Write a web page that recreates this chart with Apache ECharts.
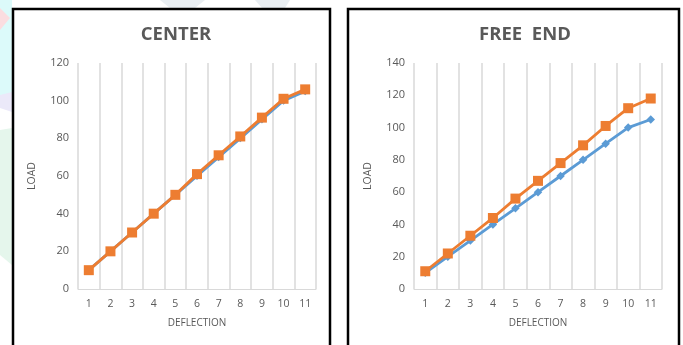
<!DOCTYPE html>
<html>
<head>
<meta charset="utf-8">
<style>
  html, body { margin: 0; padding: 0; background: #ffffff; }
  #chart { width: 683px; height: 345px; }
</style>
<script src="https://cdn.jsdelivr.net/npm/echarts@6/dist/echarts.min.js"></script>
</head>
<body>
<div id="chart"></div>
<script>
// Deflection steps shared by both panels
const deflection = ['1', '2', '3', '4', '5', '6', '7', '8', '9', '10', '11'];

// CENTER panel
const centerBlue = [10, 20, 30, 40, 50, 60, 70, 80, 90, 100, 105];
const centerOrange = [10, 20, 30, 40, 50, 61, 71, 81, 91, 101, 106];

// FREE END panel
const freeBlue = [10, 20, 30, 40, 50, 60, 70, 80, 90, 100, 105];
const freeOrange = [11, 22, 33, 44, 56, 67, 78, 89, 101, 112, 118];

const titles = ['CENTER', 'FREE  END'];
const yMax = [120, 140];

const BLUE = '#5B9BD5';
const ORANGE = '#ED7D31';
const TEXT = '#595959';
const GRID = '#d9d9d9';
const FONT = '"Open Sans", "Liberation Sans", sans-serif';

const chart = echarts.init(document.getElementById('chart'), null, { renderer: 'canvas' });

const grids = [
  { left: 78, top: 63, width: 238, height: 226 },
  { left: 414, top: 63, width: 248, height: 226 }
];

function xAxis(i) {
  return {
    type: 'category',
    gridIndex: i,
    data: deflection,
    boundaryGap: true,
    name: 'DEFLECTION',
    nameLocation: 'middle',
    nameGap: 29,
    nameTextStyle: { color: TEXT, fontSize: 10, fontFamily: FONT },
    axisLine: { show: true, lineStyle: { color: GRID, width: 1 } },
    axisTick: { show: false },
    axisLabel: { color: TEXT, fontSize: 10.5, fontFamily: FONT, margin: 10, interval: 0 },
    splitLine: { show: true, interval: 0, lineStyle: { color: GRID, width: 1.5 } }
  };
}

function yAxis(i) {
  return {
    type: 'value',
    gridIndex: i,
    min: 0,
    max: yMax[i],
    interval: 20,
    name: 'LOAD',
    nameLocation: 'middle',
    nameGap: 40,
    nameRotate: 90,
    nameTextStyle: { color: TEXT, fontSize: 10.5, fontFamily: FONT },
    axisLine: { show: false },
    axisTick: { show: false },
    axisLabel: { color: TEXT, fontSize: 11, fontFamily: FONT, margin: 9 },
    splitLine: { show: false }
  };
}

function line(i, data, color, symbol, size) {
  return {
    type: 'line',
    xAxisIndex: i,
    yAxisIndex: i,
    data: data,
    symbol: symbol,
    symbolSize: size,
    showSymbol: true,
    lineStyle: { color: color, width: 2.8 },
    itemStyle: { color: color, borderWidth: 0 },
    animation: false
  };
}

chart.setOption({
  backgroundColor: '#ffffff',
  animation: false,
  title: [
    { text: titles[0], left: 171, top: 20, textAlign: 'center',
      textStyle: { color: TEXT, fontSize: 18.5, fontWeight: 'bold', fontFamily: FONT } },
    { text: titles[1], left: 520, top: 20, textAlign: 'center',
      textStyle: { color: TEXT, fontSize: 18.5, fontWeight: 'bold', fontFamily: FONT } }
  ],
  grid: grids,
  xAxis: [xAxis(0), xAxis(1)],
  yAxis: [yAxis(0), yAxis(1)],
  series: [
    line(0, centerBlue, BLUE, 'diamond', 8),
    line(0, centerOrange, ORANGE, 'rect', 10),
    line(1, freeBlue, BLUE, 'diamond', 8.5),
    line(1, freeOrange, ORANGE, 'rect', 10)
  ],
  graphic: [
    // faint page decoration behind the panels
    { type: 'polygon', z: -10, silent: true,
      shape: { points: [[0, 0], [12, 0], [12, 100], [0, 100]] },
      style: { fill: '#dcfafa' } },
    { type: 'polygon', z: -9, silent: true,
      shape: { points: [[0, 8], [10, 18], [0, 30]] },
      style: { fill: '#fbdde0' } },
    { type: 'polygon', z: -9, silent: true,
      shape: { points: [[0, 95], [12, 92], [12, 112], [0, 108]] },
      style: { fill: '#ebe9f9' } },
    { type: 'polygon', z: -10, silent: true,
      shape: { points: [[0, 130], [12, 128], [12, 265], [0, 255]] },
      style: { fill: '#e5f6ec' } },
    { type: 'polygon', z: -10, silent: true,
      shape: { points: [[160, 0], [205, 0], [195, 8], [170, 8]] },
      style: { fill: '#e9eef2' } },
    { type: 'polygon', z: -10, silent: true,
      shape: { points: [[255, 0], [290, 0], [285, 8], [262, 8]] },
      style: { fill: '#e9eef2' } },
    // panel frames
    { type: 'rect', z: 10, silent: true,
      shape: { x: 13, y: 9, width: 317, height: 345 },
      style: { fill: 'none', stroke: '#000000', lineWidth: 2.5 } },
    { type: 'rect', z: 10, silent: true,
      shape: { x: 348, y: 9, width: 331, height: 345 },
      style: { fill: 'none', stroke: '#000000', lineWidth: 2.5 } }
  ]
});
</script>
</body>
</html>
